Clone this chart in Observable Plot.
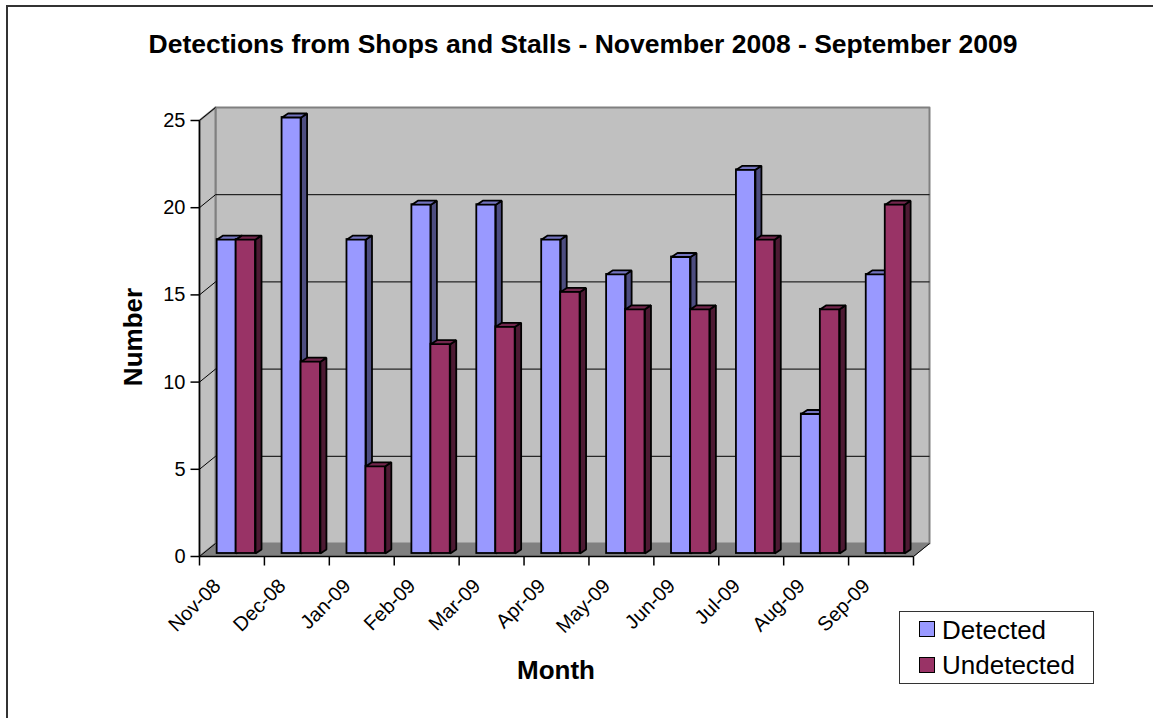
<!DOCTYPE html>
<html>
<head>
<meta charset="utf-8">
<script src="https://cdn.jsdelivr.net/npm/d3@7"></script>
<script src="https://cdn.jsdelivr.net/npm/@observablehq/plot@0.6"></script>
<style>
  html, body { margin: 0; padding: 0; background: #fff; }
  #wrap { position: relative; width: 1153px; height: 718px; overflow: hidden; font-family: "Liberation Sans", Arial, sans-serif; }
  #frame { position: absolute; left: 6px; top: 5px; width: 1300px; height: 900px; border-left: 2px solid #333; border-top: 2px solid #333; }
  #chart { position: absolute; left: 0; top: 0; }
  .abs { position: absolute; white-space: nowrap; line-height: 1; }
  #title { left: 583px; top: 31px; transform: translateX(-50%); font-size: 26.5px; font-weight: bold; }
  #xtitle { left: 556px; top: 657px; transform: translateX(-50%); font-size: 26px; font-weight: bold; }
  #ytitle { left: 133px; top: 337px; transform: translate(-50%, -50%) rotate(-90deg); font-size: 26px; font-weight: bold; }
  #legend { position: absolute; left: 899px; top: 611px; width: 193px; height: 71px; border: 1px solid #333; background: #fff; }
  .sw { position: absolute; left: 19px; width: 14px; height: 14px; border: 1.5px solid #000; }
  .lt { position: absolute; left: 42px; font-size: 26px; line-height: 1; }
</style>
</head>
<body>
<div id="wrap">
  <div id="frame"></div>
  <div id="chart"></div>
  <div id="title" class="abs">Detections from Shops and Stalls - November 2008 - September 2009</div>
  <div id="ytitle" class="abs">Number</div>
  <div id="xtitle" class="abs">Month</div>
  <div id="legend"></div>
</div>
<script>
// ---- data ----
const months = ["Nov-08", "Dec-08", "Jan-09", "Feb-09", "Mar-09", "Apr-09", "May-09", "Jun-09", "Jul-09", "Aug-09", "Sep-09"];
const detected = [18, 25, 18, 20, 20, 18, 16, 17, 22, 8, 16];
const undetected = [18, 11, 5, 12, 13, 15, 14, 14, 18, 14, 20];
const yTicks = [0, 5, 10, 15, 20, 25];
const seriesNames = ["Detected", "Undetected"];

// ---- layout (in scale units) ----
const N = months.length;
const YMAX = 25;
const pxX = (913 - 199) / N;    // pixels per category unit
const pxY = (556 - 120) / YMAX; // pixels per value unit
const OX = 16 / pxX, OY = 13 / pxY;   // wall depth
const BX = 6 / pxX, BY = 4 / pxY;     // bar depth
const BOY = 3 / pxY;                  // bar lift
const slots = [[0.272, 0.565], [0.565, 0.863]];
const colors = [
  { front: "#9999FF", top: "#7373BF", side: "#4D4D80" },
  { front: "#993366", top: "#73264D", side: "#4D1A33" }
];

function poly(id, pts) { return pts.map(([x, y]) => ({ id, x, y })); }

function faces(values, s) {
  const [a, b] = slots[s];
  const fronts = [], tops = [], sides = [];
  values.forEach((v, i) => {
    const x1 = i + a, x2 = i + b, y0 = BOY, y1 = v + BOY;
    fronts.push({ x1, x2, y1: y0, y2: y1 });
    tops.push(...poly(`t${s}-${i}`, [[x1, y1], [x2, y1], [x2 + BX, y1 + BY], [x1 + BX, y1 + BY]]));
    sides.push(...poly(`s${s}-${i}`, [[x2, y0], [x2, y1], [x2 + BX, y1 + BY], [x2 + BX, y0 + BY]]));
  });
  return { fronts, tops, sides };
}

const bars = [faces(detected, 0), faces(undetected, 1)];

const backWall = poly("back", [[OX, OY], [N + OX, OY], [N + OX, YMAX + OY], [OX, YMAX + OY]]);
const sideWall = poly("side", [[0, 0], [0, YMAX], [OX, YMAX + OY], [OX, OY]]);
const floor = poly("floor", [[0, 0], [N, 0], [N + OX, OY], [OX, OY]]);

const gridBack = yTicks.filter(v => v > 0 && v < YMAX);
const catIdx = d3.range(N + 1);

const barMarks = bars.flatMap((b, s) => [
  Plot.rect(b.fronts, { x1: "x1", x2: "x2", y1: "y1", y2: "y2", fill: colors[s].front, stroke: "#000", strokeWidth: 1.8 }),
  Plot.line(b.sides, { x: "x", y: "y", z: "id", curve: "linear-closed", fill: colors[s].side, stroke: "#000", strokeWidth: 1.8, strokeLinejoin: "miter" }),
  Plot.line(b.tops, { x: "x", y: "y", z: "id", curve: "linear-closed", fill: colors[s].top, stroke: "#000", strokeWidth: 1.8, strokeLinejoin: "miter" })
]);

const chart = Plot.plot({
  width: 1153,
  height: 718,
  marginLeft: 199,
  marginRight: 1153 - 913,
  marginTop: 120,
  marginBottom: 718 - 556,
  x: { domain: [0, N], axis: null },
  y: { domain: [0, YMAX], axis: null },
  style: { background: "transparent", fontFamily: "'Liberation Sans', Arial, sans-serif", fontSize: "20px", color: "#000", overflow: "visible" },
  marks: [
    // walls & floor
    Plot.line(backWall, { x: "x", y: "y", z: "id", curve: "linear-closed", fill: "#C0C0C0", stroke: "#808080", strokeWidth: 2 }),
    Plot.line(sideWall, { x: "x", y: "y", z: "id", curve: "linear-closed", fill: "#C0C0C0", stroke: "#808080", strokeWidth: 2 }),
    Plot.line(floor, { x: "x", y: "y", z: "id", curve: "linear-closed", fill: "#808080", stroke: "#808080", strokeWidth: 1 }),
    // gridlines on back wall
    Plot.link(gridBack, { x1: OX, x2: N + OX, y1: d => d + OY, y2: d => d + OY, stroke: "#000", strokeWidth: 1 }),
    // diagonals on side wall
    Plot.link(yTicks, { x1: 0, x2: OX, y1: d => d, y2: d => d + OY, stroke: "#000", strokeWidth: 1 }),
    // floor right edge
    Plot.link([0], { x1: N, x2: N + OX, y1: 0, y2: OY, stroke: "#000", strokeWidth: 1 }),
    // axis lines
    Plot.link([0], { x1: 0, x2: 0, y1: 0, y2: YMAX, stroke: "#000", strokeWidth: 1.5 }),
    Plot.link([0], { x1: 0, x2: N, y1: 0, y2: 0, stroke: "#000", strokeWidth: 1.5 }),
    // y ticks + labels
    Plot.link(yTicks, { x1: -9 / pxX, x2: 0, y1: d => d, y2: d => d, stroke: "#000", strokeWidth: 1.5 }),
    Plot.text(yTicks, { x: 0, y: d => d, text: d => String(d), textAnchor: "end", dx: -14, fontSize: 20 }),
    // x ticks + labels
    Plot.link(catIdx, { x1: d => d, x2: d => d, y1: 0, y2: -9 / pxY, stroke: "#000", strokeWidth: 1.5 }),
    Plot.text(months, { x: (d, i) => i + 0.5, y: 0, text: d => d, rotate: -45, textAnchor: "end", dx: -14.5, dy: 26, fontSize: 20 }),
    // bars
    ...barMarks
  ]
});
document.getElementById("chart").appendChild(chart);

// legend
const legend = document.getElementById("legend");
seriesNames.forEach((name, s) => {
  const sw = document.createElement("div");
  sw.className = "sw";
  sw.style.top = (s === 0 ? 9 : 45) + "px";
  sw.style.background = colors[s].front;
  legend.appendChild(sw);
  const t = document.createElement("div");
  t.className = "lt";
  t.style.top = (s === 0 ? 4.5 : 39.5) + "px";
  t.textContent = name;
  legend.appendChild(t);
});
</script>
</body>
</html>
